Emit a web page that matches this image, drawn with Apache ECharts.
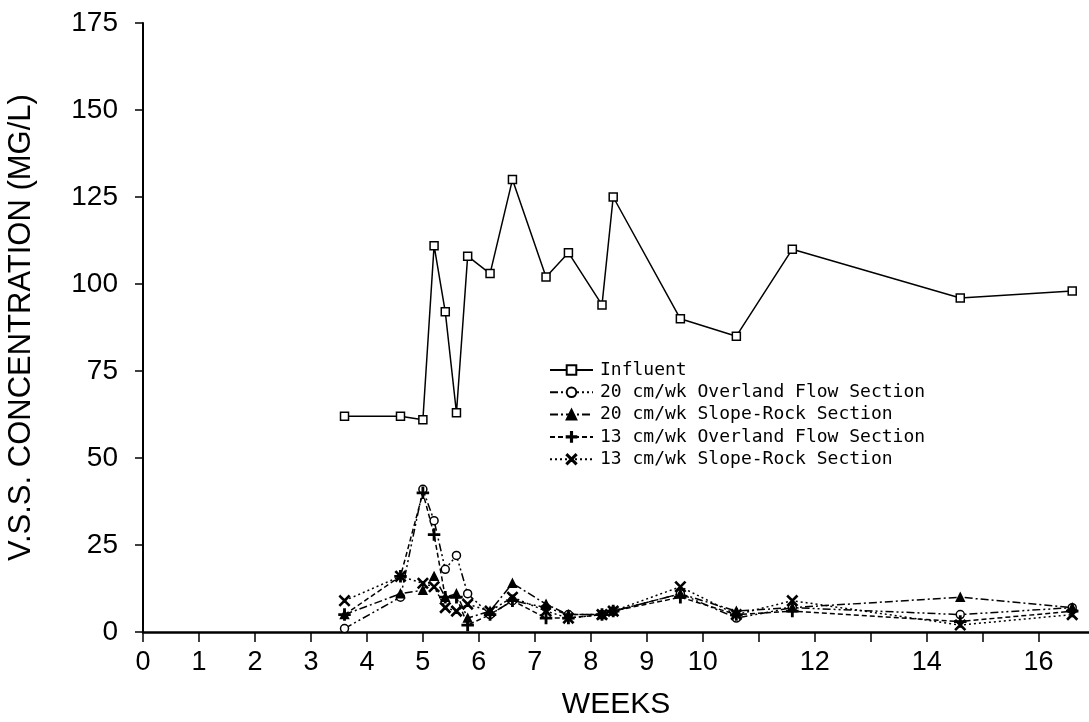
<!DOCTYPE html>
<html>
<head>
<meta charset="utf-8">
<script src="https://cdn.jsdelivr.net/npm/echarts@6/dist/echarts.min.js"></script>
<style>
  html, body { margin: 0; padding: 0; background: #fff; }
  #chart { width: 1089px; height: 722px; }
</style>
</head>
<body>
<div id="chart"></div>
<script>
// sampling weeks, shared by every series
var weeks = [3.6, 4.6, 5.0, 5.2, 5.4, 5.6, 5.8, 6.2, 6.6, 7.2, 7.6, 8.2, 8.4, 9.6, 10.6, 11.6, 14.6, 16.6];

var influent   = [62, 62, 61, 111, 92, 63, 108, 103, 130, 102, 109, 94, 125, 90, 85, 110, 96, 98];
var overland20 = [1, 10, 41, 32, 18, 22, 11, 5, 9, 7, 5, 5, 6, 11, 4, 7, 5, 7];
var slope20    = [5, 11, 12, 16, 10, 11, 4, 6, 14, 8, 5, 5, 6, 11, 6, 7, 10, 7];
var overland13 = [5, 16, 40, 28, 10, 10, 2, 5, 9, 4, 4, 5, 6, 10, 5, 6, 3, 6];
var slope13    = [9, 16, 14, 13, 7, 6, 8, 6, 10, 6, 4, 5, 6, 13, 5, 9, 2, 5];

var seriesNames = [
    'Influent',
    '20 cm/wk Overland Flow Section',
    '20 cm/wk Slope-Rock Section',
    '13 cm/wk Overland Flow Section',
    '13 cm/wk Slope-Rock Section'
];

var xTicks  = [0, 1, 2, 3, 4, 5, 6, 7, 8, 9, 10, 11, 12, 13, 14, 15, 16];
var xLabels = [0, 1, 2, 3, 4, 5, 6, 7, 8, 9, 10, 12, 14, 16];

// thin plus and cross marks
var plusPath  = 'path://M4.4,0H5.6V4.4H10V5.6H5.6V10H4.4V5.6H0V4.4H4.4Z';
var crossPath = 'path://M0.8,0L5,4.2L9.2,0L10,0.8L5.8,5L10,9.2L9.2,10L5,5.8L0.8,10L0,9.2L4.2,5L0,0.8Z';

function pairs(vals) {
    return weeks.map(function(w, i) {
        return [w, vals[i]];
    });
}

function makeSeries(name, vals, symbol, size, fill, dash) {
    return {
        name: name,
        type: 'line',
        data: pairs(vals),
        symbol: symbol,
        symbolSize: size,
        showAllSymbol: true,
        itemStyle: { color: fill, borderColor: '#000', borderWidth: 1.5 },
        lineStyle: { color: '#000', width: 1.5, type: dash },
        emphasis: { disabled: true },
        animation: false
    };
}

var font = '"Liberation Sans", "DejaVu Sans", sans-serif';

var chart = echarts.init(document.getElementById('chart'));
chart.setOption({
    backgroundColor: '#fff',
    animation: false,
    grid: { left: 143, right: 0, top: 23, bottom: 90, containLabel: false, outerBoundsMode: 'none' },
    legend: {
        orient: 'vertical',
        left: 549,
        top: 361,
        padding: 0,
        itemWidth: 43,
        itemHeight: 12,
        itemGap: 4.3,
        data: seriesNames,
        textStyle: { fontFamily: '"DejaVu Sans Mono", monospace', fontSize: 18, color: '#000', padding: [0, 0, 0, 2] }
    },
    xAxis: {
        type: 'value',
        min: 0,
        max: 16.9,
        name: 'WEEKS',
        nameLocation: 'middle',
        nameGap: 58,
        nameTextStyle: { fontFamily: font, fontSize: 30, color: '#000' },
        axisLine: { lineStyle: { color: '#000', width: 2.5 } },
        axisTick: { customValues: xTicks, length: 10, lineStyle: { color: '#000', width: 1.5 } },
        axisLabel: { customValues: xLabels, margin: 17, fontFamily: font, fontSize: 27, color: '#000' },
        splitLine: { show: false }
    },
    yAxis: {
        type: 'value',
        min: 0,
        max: 175,
        interval: 25,
        name: 'V.S.S. CONCENTRATION (MG/L)',
        nameLocation: 'middle',
        nameGap: 106,
        nameRotate: 90,
        nameTextStyle: { fontFamily: font, fontSize: 31, color: '#000' },
        axisLine: { show: true, lineStyle: { color: '#000', width: 2 } },
        axisTick: { show: true, length: 8, lineStyle: { color: '#000', width: 1.5 } },
        axisLabel: { margin: 25, fontFamily: font, fontSize: 28, color: '#000' },
        splitLine: { show: false }
    },
    series: [
        makeSeries(seriesNames[0], influent, 'rect', 8, '#fff', 'solid'),
        makeSeries(seriesNames[1], overland20, 'circle', 8, '#fff', [8, 3, 2, 3, 2, 3]),
        makeSeries(seriesNames[2], slope20, 'triangle', 8, '#000', [8, 3, 2, 3]),
        makeSeries(seriesNames[3], overland13, plusPath, 11, '#000', [5, 3]),
        makeSeries(seriesNames[4], slope13, crossPath, 10, '#000', [2, 3])
    ]
});
</script>
</body>
</html>
